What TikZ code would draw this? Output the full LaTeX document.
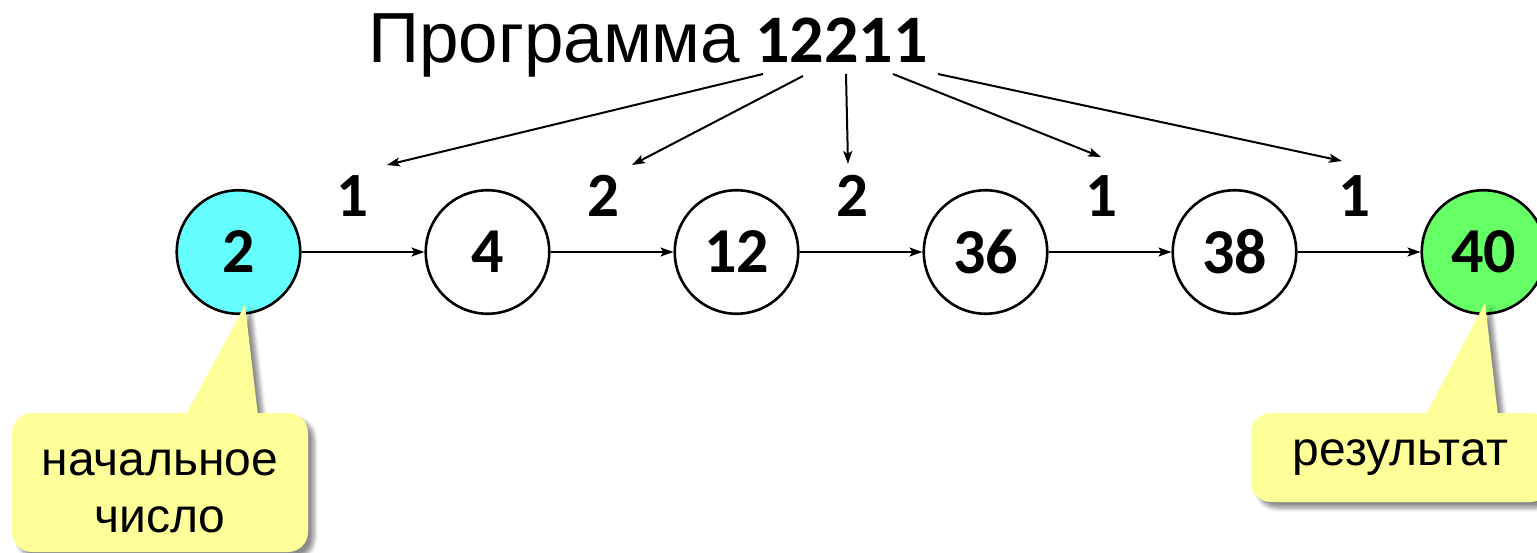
\documentclass[tikz,border=0pt]{standalone}
\usepackage{fontspec}
\setmainfont{Liberation Sans}
\newfontfamily\carl{Carlito}
\usetikzlibrary{arrows.meta,shadows.blur}
\definecolor{startcol}{HTML}{66FFFF}
\definecolor{endcol}{HTML}{66FF66}
\definecolor{noteyellow}{HTML}{FFFF99}
\begin{document}
\begin{tikzpicture}[x=1pt,y=-1pt,
  state/.style={circle,draw,line width=2.6pt,minimum size=123.5pt,inner sep=0pt,
    font=\carl\bfseries\fontsize{64}{64}\selectfont},
  lbl/.style={inner sep=0pt,font=\carl\bfseries\fontsize{63}{63}\selectfont},
  arr/.style={line width=2pt,-{Stealth[length=13pt,width=9pt,inset=3pt]}},
  shadowed/.style={blur shadow={shadow xshift=6pt,shadow yshift=-6pt,
    shadow blur steps=6,shadow blur radius=4pt,shadow opacity=45}},
  notebox/.style={fill=noteyellow,rounded corners=20pt,inner sep=0pt,shadowed},
  notefont/.style={font=\fontsize{48}{57}\selectfont}]
\useasboundingbox (0,0) rectangle (1537,553);

% title
\node[anchor=base west,inner sep=0pt] (title) at (368,63)
  {\fontsize{71}{71}\selectfont Программа\kern15pt{\carl\bfseries\fontsize{68}{68}\selectfont 12211}};

% states
\node[state,fill=startcol] (n1) at (238.5,252) {2};
\node[state] (n2) at (487.5,252) {4};
\node[state] (n3) at (736.5,252) {12};
\node[state] (n4) at (985.5,252) {36};
\node[state] (n5) at (1234.5,252) {38};
\node[state,fill=endcol] (n6) at (1483.5,252) {40};

\foreach \a/\b in {n1/n2,n2/n3,n3/n4,n4/n5,n5/n6}
  \draw[arr] (\a) -- (\b);

% step labels
\node[lbl] (l1) at (352,196) {1};
\node[lbl] (l2) at (603,196) {2};
\node[lbl] (l3) at (852,196) {2};
\node[lbl] (l4) at (1101,196) {1};
\node[lbl] (l5) at (1354,196) {1};

% arrows from the program digits
\coordinate (s1) at (763,74);  \coordinate (e1) at (387,165);
\coordinate (s2) at (803,76);  \coordinate (e2) at (632,165);
\coordinate (s3) at (846,74);  \coordinate (e3) at (848,164);
\coordinate (s4) at (893,74);  \coordinate (e4) at (1101,157);
\coordinate (s5) at (938,74);  \coordinate (e5) at (1342,161);
\foreach \i in {1,...,5}
  \draw[arr] (s\i) -- (e\i);

% callout: start number
\coordinate (p1) at (245,305);
\fill[noteyellow,shadowed] (185,416) -- (p1) -- (258,416) -- cycle;
\node[notebox,minimum width=296pt,minimum height=139pt] (startbox) at (160,482.5) {};
\node[notefont,align=center,anchor=north,inner sep=0pt] (starttext) at (160,449.5)
  {начальное\\число};

% callout: result
\coordinate (p2) at (1485,303);
\fill[noteyellow,shadowed] (1425,416) -- (p2) -- (1498,416) -- cycle;
\node[notebox,notefont,minimum width=299pt,minimum height=89pt] (resbox) at (1400.5,457.5)
  {результат};
\end{tikzpicture}
\end{document}
